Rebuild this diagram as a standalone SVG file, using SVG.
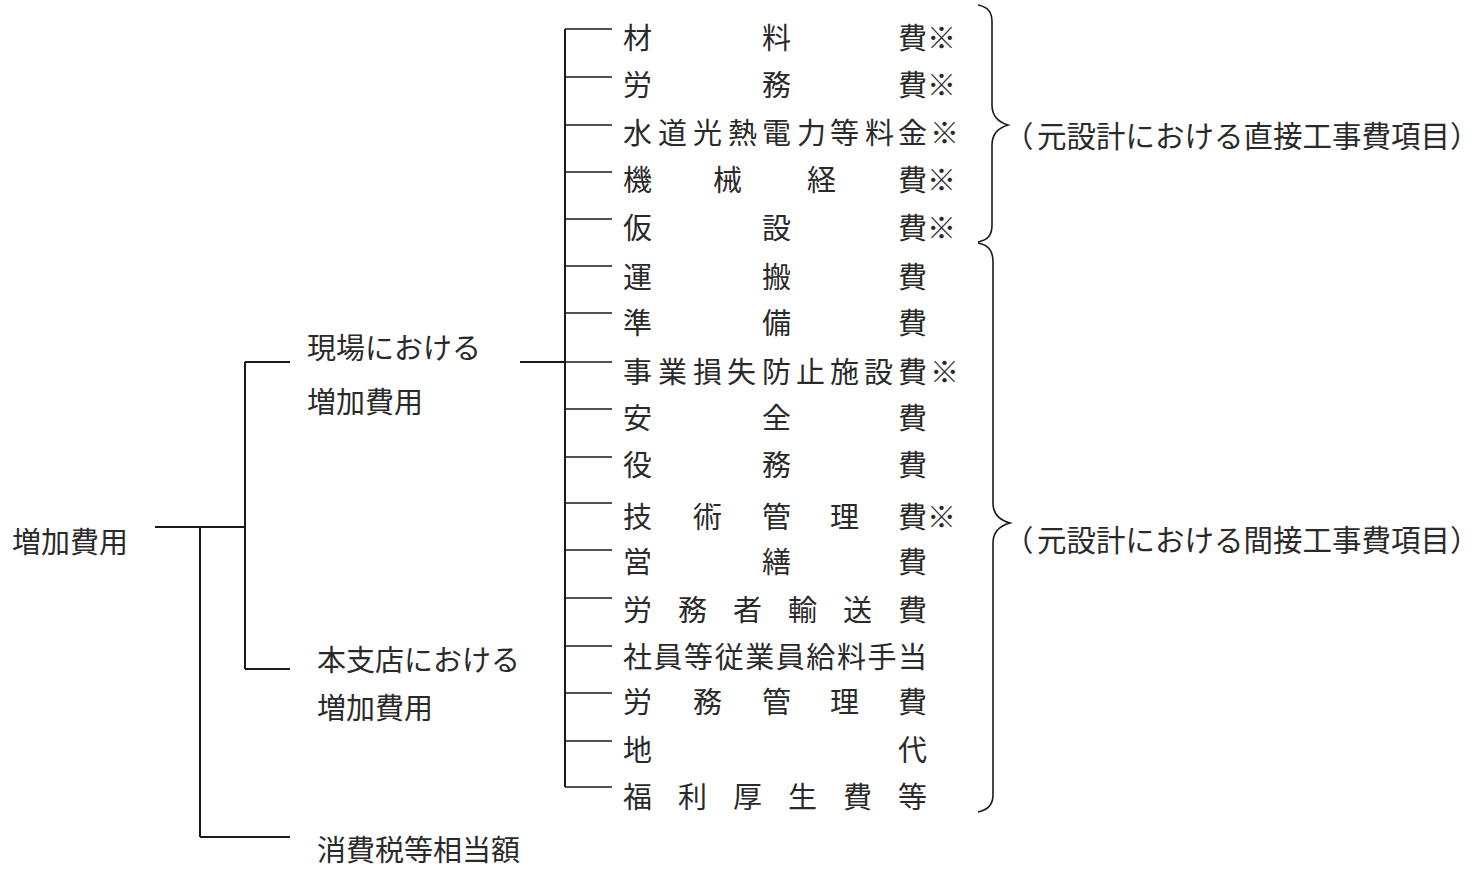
<svg xmlns="http://www.w3.org/2000/svg" width="1483" height="875" viewBox="0 0 1483 875">
<style>
text{font-family:"Noto Sans CJK JP","Noto Sans CJK SC",sans-serif;font-size:29px;fill:#2a2a2a}
.ln{stroke:#1a1a1a;stroke-width:2;fill:none}
.tk{stroke:#1a1a1a;stroke-width:1.6;fill:none}
.br{stroke:#1a1a1a;stroke-width:1.6;fill:none}
.lb{font-size:29.5px}
</style>
<rect width="1483" height="875" fill="#fff"/>
<g id="connectors">
<path class="ln" d="M155 527H245M245 362V669M245 362H290M245 669H290M200 527V837M200 837H290"/>
<path class="ln" d="M565 29V787M520 362H565"/>
<path class="tk" d="M565 29H612M565 77H612M565 125H612M565 172H612M565 219H612M565 266H612M565 313H612M565 362H612M565 409H612M565 457H612M565 503H612M565 550H612M565 598H612M565 646H612M565 693H612M565 741H612M565 787H612"/>
<path id="brace-direct" class="br" d="M978 5C988 7 992 12 992 22L992 105C992 116 998 122 1008 125C998 128 992 134 992 145L992 225C992 235 988 240 978 242"/>
<path id="brace-indirect" class="br" d="M978 243C988 245 993 250 993 262L993 503C993 514 999 520 1010 523C999 526 993 532 993 543L993 795C993 805 988 810 978 812"/>
</g>
<g id="root"><text x="12" y="553">増加費用</text></g>
<g id="genba"><text x="307" y="359">現場における</text><text x="307" y="413">増加費用</text></g>
<g id="honshiten"><text x="317" y="671">本支店における</text><text x="317" y="719">増加費用</text></g>
<g id="shohizei"><text x="317" y="861">消費税等相当額</text></g>
<g id="items">
<text id="i0" x="623 762 898 927" y="49">材料費※</text>
<text id="i1" x="623 762 898 927" y="96">労務費※</text>
<text id="i2" x="623 658 693 728 762 797 830 865 898 930" y="144">水道光熱電力等料金※</text>
<text id="i3" x="623 713 807 898 927" y="191">機械経費※</text>
<text id="i4" x="623 762 898 927" y="239">仮設費※</text>
<text id="i5" x="623 762 898" y="288">運搬費</text>
<text id="i6" x="623 762 898" y="334">準備費</text>
<text id="i7" x="623 658 693 727 762 796 830 864 898 930" y="383">事業損失防止施設費※</text>
<text id="i8" x="623 762 898" y="429">安全費</text>
<text id="i9" x="623 762 898" y="476">役務費</text>
<text id="i10" x="623 693 762 830 898 927" y="528">技術管理費※</text>
<text id="i11" x="623 762 898" y="573">営繕費</text>
<text id="i12" x="623 678 733 788 843 898" y="621">労務者輸送費</text>
<text id="i13" x="623 653.6 684.1 714.7 745.2 775.8 806.3 836.9 867.4 898" y="668">社員等従業員給料手当</text>
<text id="i14" x="623 693 762 830 898" y="713">労務管理費</text>
<text id="i15" x="623 898" y="761">地代</text>
<text id="i16" x="623 678 733 788 843 898" y="808">福利厚生費等</text>
</g>
<g id="label-direct"><text class="lb" x="1004 1037" y="147">（元設計における直接工事費項目）</text></g>
<g id="label-indirect"><text class="lb" x="1004 1037" y="551">（元設計における間接工事費項目）</text></g>
</svg>
